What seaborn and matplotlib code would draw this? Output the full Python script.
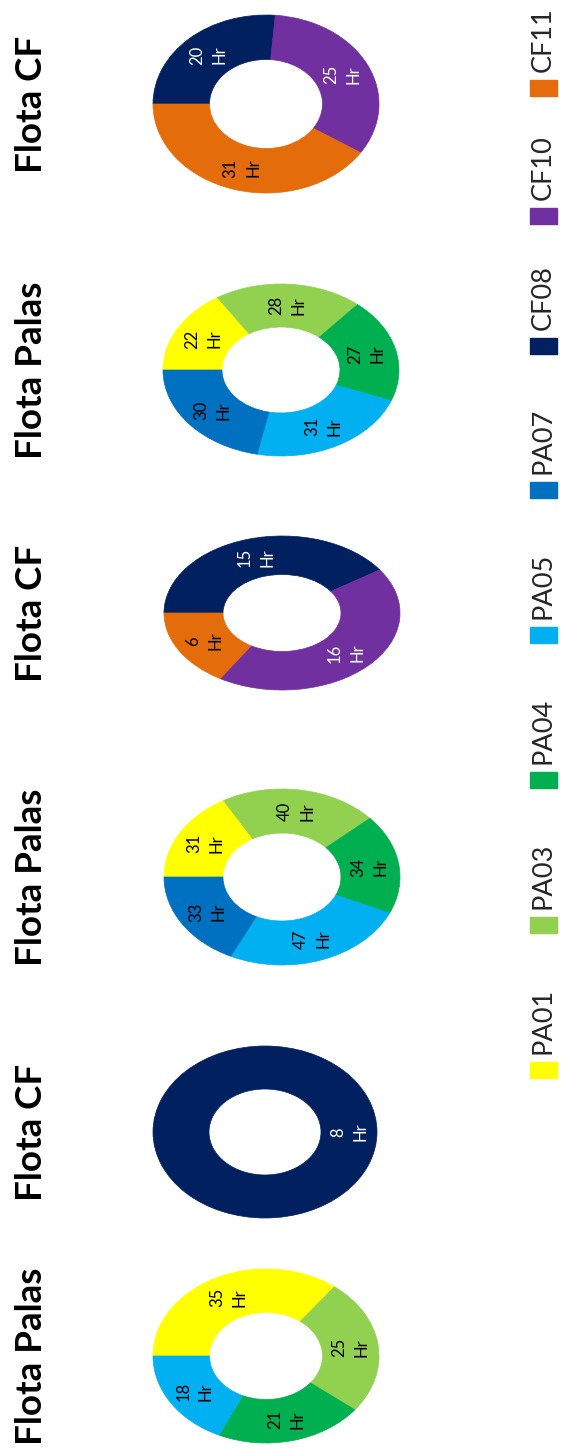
import matplotlib
matplotlib.use('Agg')
import matplotlib.pyplot as plt
import seaborn as sns
from matplotlib.patches import Rectangle

# datos: horas por equipo, tres turnos (flota palas / flota CF)
palas = ['PA01', 'PA03', 'PA04', 'PA05', 'PA07']
cf = ['CF08', 'CF10', 'CF11']

palas_1 = [35, 25, 21, 18, 0]
cf_1 = [8, 0, 0]
palas_2 = [31, 40, 34, 47, 33]
cf_2 = [15, 16, 6]
palas_3 = [22, 28, 27, 31, 30]
cf_3 = [20, 25, 31]

colores = {
    'PA01': '#FFFF00', 'PA03': '#92D050', 'PA04': '#00B050', 'PA05': '#00B0F0',
    'PA07': '#0070C0', 'CF08': '#002060', 'CF10': '#7030A0', 'CF11': '#E46C0A',
}
texto_blanco = ['CF08', 'CF10']

graficos = [
    ('Flota Palas', palas, palas_1),
    ('Flota CF', cf, cf_1),
    ('Flota Palas', palas, palas_2),
    ('Flota CF', cf, cf_2),
    ('Flota Palas', palas, palas_3),
    ('Flota CF', cf, cf_3),
]

# layout en pixeles (cx, cy, rx, ry), de abajo hacia arriba
cajas = [
    (266, 1356, 113, 87),
    (265, 1132, 112, 86),
    (282, 877, 118, 88),
    (282, 613, 118, 77),
    (281, 370, 118, 86),
    (266, 104, 113, 89),
]

W, H = 562, 1451
sns.set_theme(style='white')
plt.rcParams['font.family'] = ['Lato', 'DejaVu Sans']

fig = plt.figure(figsize=(W / 100, H / 100), dpi=100)
fondo = fig.add_axes([0, 0, 1, 1])
fondo.set_xlim(0, W)
fondo.set_ylim(H, 0)
fondo.axis('off')

for (titulo, nombres, valores), (cx, cy, rx, ry) in zip(graficos, cajas):
    ax = fig.add_axes([(cx - rx) / W, 1 - (cy + ry) / H, 2 * rx / W, 2 * ry / H])
    noms = [n for n, v in zip(nombres, valores) if v > 0]
    vals = [v for v in valores if v > 0]
    wedges, textos = ax.pie(
        vals, colors=[colores[n] for n in noms], startangle=180, counterclock=False,
        labels=[f'{v}\nHr' for v in vals], labeldistance=0.75,
        wedgeprops=dict(width=0.5, linewidth=0.5, edgecolor='none'),
        textprops=dict(rotation=90, ha='center', va='center', fontsize=12, linespacing=1.5),
    )
    for n, w, t in zip(noms, wedges, textos):
        w.set_edgecolor(colores[n])
        t.set_color('white' if n in texto_blanco else 'black')
    ax.set_aspect('auto')
    ax.set_xlim(-1, 1)
    ax.set_ylim(-1, 1)
    fondo.text(32, cy, titulo, rotation=90, ha='center', va='center',
               fontsize=26.5, fontweight='bold', color='black')

# leyenda manual (rotada)
leyenda = palas + cf
pos_leyenda = [1070, 925, 780, 635, 490, 346, 216, 88]
for nombre, y in zip(leyenda, pos_leyenda):
    fondo.add_patch(Rectangle((530, y - 8), 27, 16, color=colores[nombre]))
    fondo.text(543, y - 16, nombre, rotation=90, ha='center', va='bottom',
               fontsize=19.5, color='#262626')

fig.savefig('out.png', dpi=100)
